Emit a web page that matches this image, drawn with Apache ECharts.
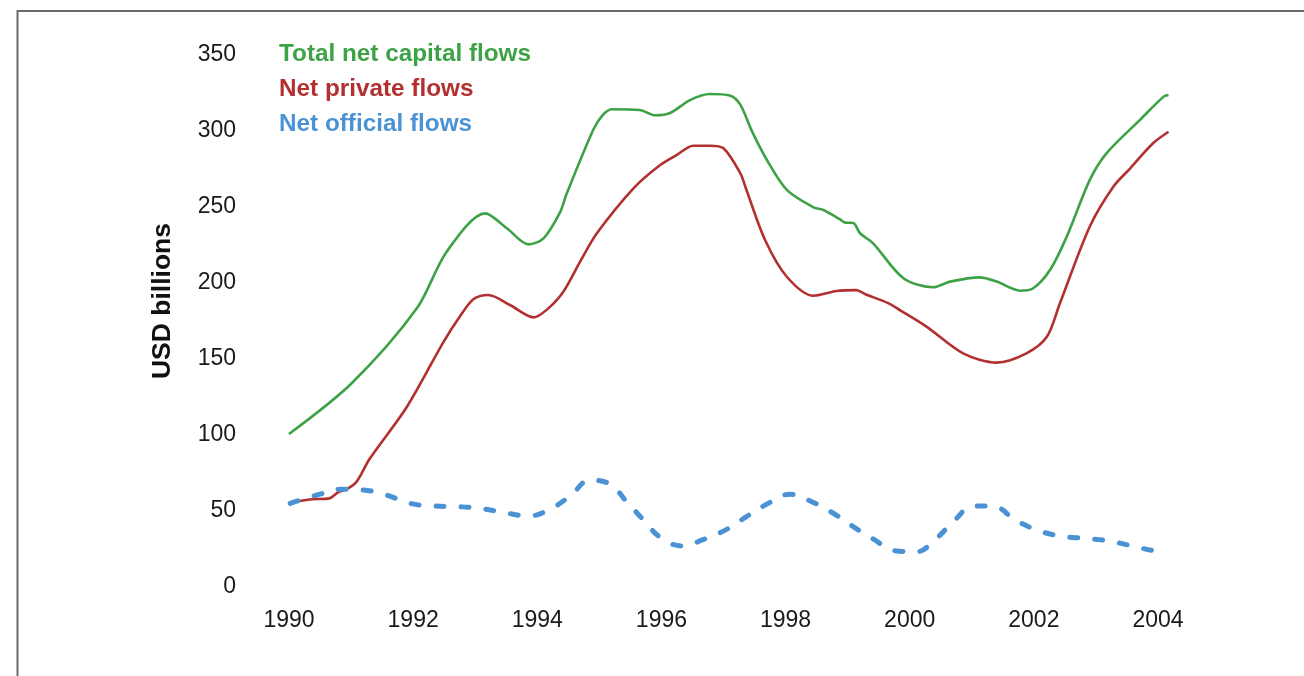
<!DOCTYPE html>
<html>
<head>
<meta charset="utf-8">
<script src="https://cdn.jsdelivr.net/npm/echarts@6/dist/echarts.min.js"></script>
<style>
html,body{margin:0;padding:0;background:#fff;}
#chart{width:1304px;height:676px;}
</style>
</head>
<body>
<div id="chart"></div>
<script>
// ---- Data ----
const yTicks = [0, 50, 100, 150, 200, 250, 300, 350];
const xTickLabels = [1990, 1992, 1994, 1996, 1998, 2000, 2002, 2004];
const seriesNames = ['Total net capital flows', 'Net private flows', 'Net official flows'];
const yAxisName = 'USD billions';

const totalYears = [1990.0, 1991.01, 1992.06, 1992.54, 1993.16, 1993.51, 1993.86, 1994.10, 1994.37, 1994.47, 1994.90, 1995.05, 1995.2, 1995.65, 1995.9, 1996.14, 1996.46, 1996.78, 1997.1, 1997.27, 1997.45, 1997.7, 1998.02, 1998.45, 1998.61, 1998.88, 1998.96, 1999.09, 1999.2, 1999.41, 1999.9, 2000.38, 2000.65, 2001.13, 2001.40, 2001.78, 2001.99, 2002.26, 2002.53, 2002.90, 2003.17, 2003.71, 2004.09, 2004.17];
const totalValues = [99.3, 132.7, 182, 219.3, 244.5, 234.7, 224.1, 228, 245.5, 257, 299.3, 309, 313, 312.5, 309, 310.5, 319, 323, 322, 316, 299.3, 279.6, 260, 248.5, 246.7, 240.5, 238.4, 238.2, 231.4, 224.8, 201.8, 195.9, 199.6, 202.4, 199.6, 193.6, 195.2, 207.2, 229.2, 266.4, 284, 306, 321.3, 322.4];

const privateYears = [1990.0, 1990.37, 1990.65, 1990.79, 1990.93, 1991.09, 1991.30, 1991.9, 1992.49, 1992.75, 1992.97, 1993.21, 1993.56, 1993.94, 1994.15, 1994.42, 1994.69, 1994.96, 1995.55, 1995.98, 1996.25, 1996.51, 1996.78, 1997.0, 1997.27, 1997.37, 1997.67, 1998.02, 1998.45, 1998.82, 1999.14, 1999.28, 1999.66, 1999.84, 2000.27, 2000.86, 2001.40, 2001.88, 2002.21, 2002.42, 2002.9, 2003.28, 2003.55, 2003.92, 2004.17];
const privateValues = [54, 56.4, 57, 61, 63, 68, 83, 117.3, 160, 176.5, 188, 190.8, 184.2, 176.1, 181, 193, 212.7, 231.4, 261, 276.3, 283, 289, 289, 287.3, 270.9, 259.9, 227, 202.8, 190.3, 193.4, 194, 191.4, 185.3, 180.9, 170, 152.4, 146.3, 152.4, 163.3, 185.3, 235.7, 262, 274, 290.6, 298.2];

const officialYears = [1990.02, 1990.45, 1990.85, 1991.2, 1991.57, 1991.95, 1992.33, 1992.73, 1993.08, 1993.45, 1993.86, 1994.2, 1994.53, 1994.85, 1995.17, 1995.44, 1995.71, 1995.98, 1996.33, 1996.68, 1997.05, 1997.37, 1997.72, 1998.07, 1998.42, 1998.77, 1999.09, 1999.41, 1999.76, 2000.11, 2000.43, 2000.70, 2001.03, 2001.37, 2001.70, 2002.05, 2002.42, 2002.82, 2003.2, 2003.58, 2003.95, 2004.16];
const officialValues = [53.7, 59.2, 63, 62.5, 59.2, 53.7, 52, 51.5, 50.4, 47.8, 45.4, 49.8, 58.5, 69, 66.4, 54.8, 42.8, 31.4, 25.7, 30, 36.6, 45, 53.7, 59.7, 54.8, 47.2, 38.4, 30.3, 22.6, 21.9, 30.7, 41.6, 52, 51.5, 42.8, 36.2, 32.2, 30.7, 29.1, 25.7, 22.4, 21.7];

// ---- Build ----
const zip = (xs, ys) => xs.map((x, i) => [x, ys[i]]);
const colors = ['#3da245', '#b2302f', '#4a92d4'];
const labelFont = '"Liberation Sans", Arial, sans-serif';

const chart = echarts.init(document.getElementById('chart'), null, {renderer: 'canvas'});
chart.setOption({
  backgroundColor: '#fff',
  animation: false,
  grid: {left: 289, top: 53, width: 881.4, height: 532, containLabel: false},
  xAxis: {
    type: 'value', min: 1990, max: 2004.2, interval: 2,
    axisLine: {show: false}, axisTick: {show: false}, splitLine: {show: false},
    axisLabel: {
      margin: 24, fontSize: 23, color: '#1a1a1a', fontFamily: labelFont,
      formatter: v => (xTickLabels.indexOf(Math.round(v * 100) / 100) >= 0 ? String(v) : '')
    }
  },
  yAxis: {
    type: 'value', min: yTicks[0], max: yTicks[yTicks.length - 1], interval: 50,
    axisLine: {show: false}, axisTick: {show: false}, splitLine: {show: false},
    axisLabel: {
      margin: 53, color: '#1a1a1a',
      formatter: v => '{t|' + v + '}',
      rich: {t: {fontSize: 23, color: '#1a1a1a', fontFamily: labelFont, padding: [4, 0, 0, 0]}}
    }
  },
  series: [
    {name: seriesNames[0], type: 'line', data: zip(totalYears, totalValues), smooth: 0.3, symbol: 'none',
     lineStyle: {color: colors[0], width: 2.6}},
    {name: seriesNames[1], type: 'line', data: zip(privateYears, privateValues), smooth: 0.3, symbol: 'none',
     lineStyle: {color: colors[1], width: 2.6}},
    {name: seriesNames[2], type: 'line', data: zip(officialYears, officialValues), smooth: 0.4, symbol: 'none',
     lineStyle: {color: colors[2], width: 5, type: [8, 17], cap: 'round'}}
  ],
  graphic: [
    {type: 'polyline', shape: {points: [[17.5, 676], [17.5, 11], [1304, 11]]}, silent: true,
     style: {stroke: '#6a6a6a', lineWidth: 2, fill: null}},
    {type: 'text', x: 163, y: 301, rotation: Math.PI / 2,
     style: {text: yAxisName, fill: '#111', font: 'bold 26.5px ' + labelFont, align: 'center', verticalAlign: 'middle'}},
    {type: 'text', left: 279, top: 42, style: {text: seriesNames[0], fill: colors[0], font: 'bold 24.3px ' + labelFont}},
    {type: 'text', left: 279, top: 77, style: {text: seriesNames[1], fill: colors[1], font: 'bold 24.3px ' + labelFont}},
    {type: 'text', left: 279, top: 112, style: {text: seriesNames[2], fill: colors[2], font: 'bold 24.3px ' + labelFont}}
  ]
});
</script>
</body>
</html>
